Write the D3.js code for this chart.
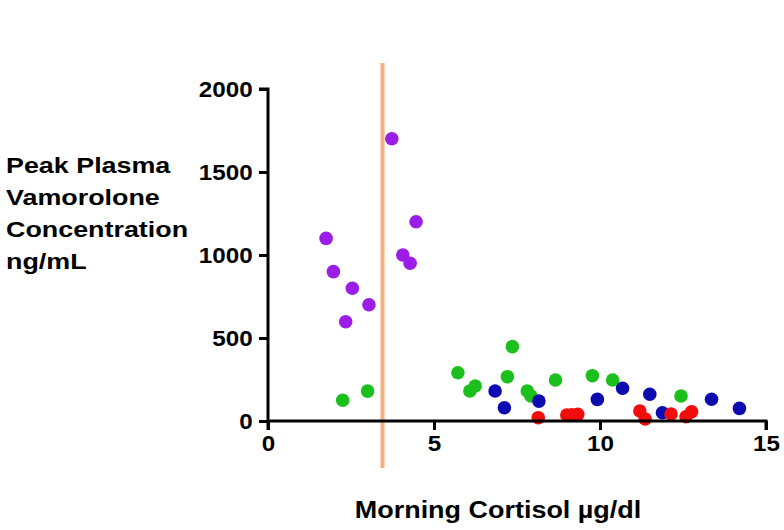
<!DOCTYPE html>
<html><head><meta charset="utf-8">
<script src="https://cdn.jsdelivr.net/npm/d3@7"></script>
<style>body{margin:0;background:#fff}svg{display:block}text{font-family:"Liberation Sans",Arial,sans-serif;font-weight:bold}</style>
</head><body><svg id="c" width="784" height="530"></svg>
<script>
const xTicks = [0, 5, 10, 15];
const yTicks = [0, 500, 1000, 1500, 2000];
const cutoff = 3.45;
const purpleX = [1.75, 1.97, 2.34, 2.54, 3.04, 3.73, 4.06, 4.28, 4.46];
const purpleY = [1100, 900, 598, 800, 700, 1700, 1000, 950, 1200];
const greenX = [2.25, 3.0, 5.72, 6.08, 6.24, 7.21, 7.36, 7.81, 7.92, 8.66, 9.77, 10.38, 12.44];
const greenY = [125, 180, 291, 181, 211, 267, 448, 181, 151, 247, 273, 247, 151];
const blueX = [6.84, 7.12, 8.16, 9.92, 10.68, 11.5, 11.88, 13.36, 14.2];
const blueY = [181, 80, 120, 130, 197, 161, 50, 131, 76];
const redX = [8.14, 9.0, 9.15, 9.33, 11.2, 11.36, 12.14, 12.59, 12.76];
const redY = [20, 36, 38, 40, 60, 12, 42, 26, 56];

const svg = d3.select("#c");
const x = d3.scaleLinear().domain([0, 15]).range([268, 766]);
const y = d3.scaleLinear().domain([0, 2000]).range([421, 89]);

svg.append("line").attr("x1", x(cutoff)).attr("x2", x(cutoff)).attr("y1", 63).attr("y2", 468)
  .attr("stroke", "#f4b27c").attr("stroke-width", 4);

const series = [
  {xs: purpleX, ys: purpleY, c: "#9b1de6"},
  {xs: greenX, ys: greenY, c: "#1cc01c"},
  {xs: blueX, ys: blueY, c: "#0b0bb0"},
  {xs: redX, ys: redY, c: "#f20d0d"}
];
series.forEach(s => {
  svg.append("g").selectAll("circle").data(s.xs.map((v, i) => [v, s.ys[i]])).join("circle")
    .attr("cx", d => x(d[0])).attr("cy", d => y(d[1])).attr("r", 6.8).attr("fill", s.c);
});

const xa = svg.append("g").attr("transform", "translate(0,421)")
  .call(d3.axisBottom(x).tickValues(xTicks).tickSize(9).tickPadding(5).tickFormat(d3.format("d")));
const ya = svg.append("g").attr("transform", "translate(268,0)")
  .call(d3.axisLeft(y).tickValues(yTicks).tickSize(9).tickPadding(5).tickFormat(d3.format("d")));
[xa, ya].forEach(a => {
  a.select(".domain").attr("stroke", "#000").attr("stroke-width", 3);
  a.selectAll(".tick line").attr("stroke", "#000").attr("stroke-width", 3);
  a.selectAll(".tick text").attr("fill", "#000").style("font-size", "22px").style("font-weight", "bold")
   .style("font-family", "'Liberation Sans', Arial, sans-serif").attr("transform", "scale(1.1,1)");
});
xa.select(".domain").attr("d", "M268,0H766V9");
ya.select(".domain").attr("d", "M-9,89H0V430");

svg.append("text").attr("transform", "translate(498,518) scale(1.1,1)").attr("text-anchor", "middle")
  .style("font-size", "24.5px").text("Morning Cortisol µg/dl");

const yTitle = ["Peak Plasma", "Vamorolone", "Concentration", "ng/mL"];
svg.append("g").selectAll("text").data(yTitle).join("text")
  .attr("transform", (d, i) => `translate(6,${173 + i * 32}) scale(1.25,1)`)
  .style("font-size", "21.5px").text(d => d);
</script></body></html>
